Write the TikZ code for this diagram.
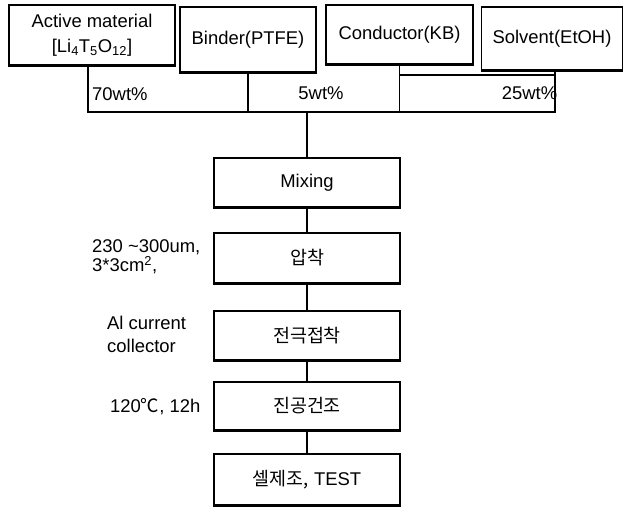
\documentclass[tikz,border=0pt]{standalone}
\usepackage{fontspec}
\setmainfont{Liberation Sans}
\newfontfamily\kr{Noto Sans CJK KR}
\begin{document}
\begin{tikzpicture}[x=1bp,y=-1bp,
  every node/.style={font=\fontsize{18.5}{22}\selectfont, inner sep=0pt},
  heavybottom/.style={append after command={(\tikzlastnode.south west) edge[line width=2.2bp] (\tikzlastnode.south east)}},
  topbox/.style={draw, line width=1.3bp, align=center, heavybottom},
  stepbox/.style={draw, line width=1.3bp, minimum width=186bp, minimum height=49bp, heavybottom},
  conn/.style={line width=1.3bp},
  note/.style={anchor=west, align=left}]
\useasboundingbox (0,0) rectangle (624,508);
% top material boxes
\node[topbox, minimum width=166bp, minimum height=60bp, font=\fontsize{18.5}{25}\selectfont] (a1) at (92,35) {Active material\\{[}Li\textsubscript{4}T\textsubscript{5}O\textsubscript{12}{]}};
\node[topbox, minimum width=136bp, minimum height=65bp] (a2) at (248,39.5) {Binder(PTFE)};
\node[topbox, minimum width=147bp, minimum height=59bp] (a3) at (399.5,34.5) {Conductor(KB)};
\node[topbox, minimum width=141bp, minimum height=63bp] (a4) at (552,38.5) {Solvent(EtOH)};
% collecting frame
\coordinate (hub) at (307,112);
\coordinate (t25) at (400,75);
\coordinate (t25e) at (555,75);
\draw[conn] ([xshift=-4bp]a1.south) |- (hub);
\draw[conn] ([xshift=3bp]a4.south) |- (hub);
\draw[conn] (a2.south) -- (a2.south |- hub);
\draw[conn] (a3.south) -- (a3.south |- hub);
\draw[conn] (t25) -- (t25e);
\node[note] (w70) at (92,94) {70wt\%};
\node (w5) at (321,93) {5wt\%};
\node (w25) at (529.5,93) {25wt\%};
% process chain
\node[stepbox] (mix) at (307,182.5) {Mixing};
\node[stepbox, minimum height=50bp] (press) at (307,258) {\kr 압착};
\node[stepbox] (elec) at (307,335.5) {\kr 전극접착};
\node[stepbox, minimum height=48bp] (dry) at (307,406) {\kr 진공건조};
\node[stepbox, minimum height=51bp] (cell) at (307,479.5) {{\kr 셀제조,} TEST};
\draw[conn] (hub) -- (mix);
\draw[conn] (mix) -- (press);
\draw[conn] (press) -- (elec);
\draw[conn] (elec) -- (dry);
\draw[conn] (dry) -- (cell);
% side notes
\node[note, font=\fontsize{18.5}{19.5}\selectfont] (n1) at (92,257) {230 \textasciitilde300um,\\3*3cm\textsuperscript{2},};
\node[note, font=\fontsize{18.5}{23}\selectfont] (n2) at (107,334.5) {Al current\\collector};
\node[note] (n3) at (110,407) {120{\kr ℃}, 12h};
\end{tikzpicture}
\end{document}
